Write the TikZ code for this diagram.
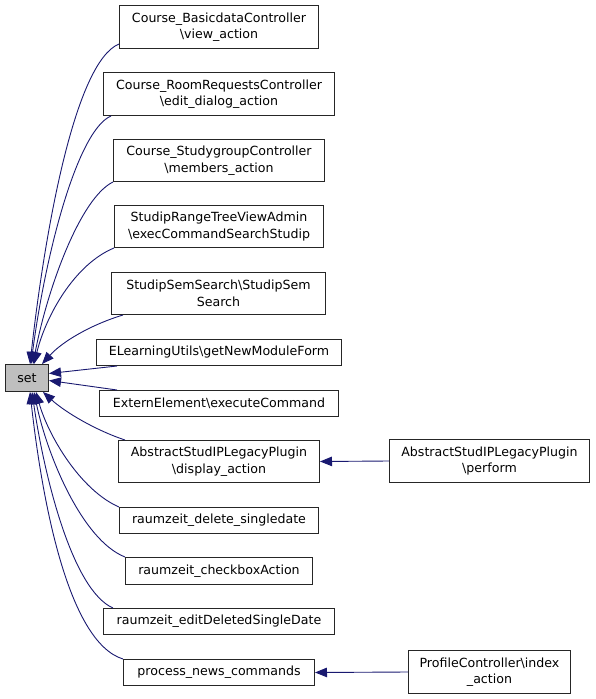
\documentclass[tikz,border=0pt]{standalone}
\usepackage{fontspec}
\setmainfont{DejaVu Sans}
\usetikzlibrary{arrows.meta}
\definecolor{edgeblue}{HTML}{191970}
\definecolor{setgray}{HTML}{BFBFBF}
\begin{document}
\begin{tikzpicture}[x=1pt,y=-1pt,
  box/.style={draw=black!85, line width=1pt, fill=white, align=center, inner sep=0pt,
    anchor=north west, font=\fontsize{12.6}{16.5}\selectfont},
  edge/.style={draw=edgeblue, line width=0.9pt, -{Triangle[length=12pt,width=9.5pt]}}]
\useasboundingbox (0,0) rectangle (595,699);
\node[box, minimum width=199pt, minimum height=43pt] (n1) at (119,5) {Course\_BasicdataController\\\textbackslash view\_action};
\node[box, minimum width=231pt, minimum height=43pt] (n2) at (103,72) {Course\_RoomRequestsController\\\textbackslash edit\_dialog\_action};
\node[box, minimum width=211pt, minimum height=42pt] (n3) at (113,139) {Course\_StudygroupController\\\textbackslash members\_action};
\node[box, minimum width=209pt, minimum height=42pt] (n4) at (114,205) {StudipRangeTreeViewAdmin\\\textbackslash execCommandSearchStudip};
\node[box, minimum width=214pt, minimum height=42pt] (n5) at (111,272) {StudipSemSearch\textbackslash StudipSem\\Search};
\node[box, minimum width=245pt, minimum height=26pt] (n6) at (96,339) {ELearningUtils\textbackslash getNewModuleForm};
\node[box, minimum width=239pt, minimum height=26pt] (n7) at (99,390) {ExternElement\textbackslash executeCommand};
\node[box, minimum width=201pt, minimum height=42pt] (n8) at (118,440) {AbstractStudIPLegacyPlugin\\\textbackslash display\_action};
\node[box, minimum width=199pt, minimum height=26pt] (n9) at (119,507) {raumzeit\_delete\_singledate};
\node[box, minimum width=187pt, minimum height=27pt] (n10) at (125,557) {raumzeit\_checkboxAction};
\node[box, minimum width=231pt, minimum height=26pt] (n11) at (103,608) {raumzeit\_editDeletedSingleDate};
\node[box, minimum width=191pt, minimum height=26pt] (n12) at (123,659) {process\_news\_commands};
\node[box, minimum width=200pt, minimum height=43pt] (n13) at (389,439) {AbstractStudIPLegacyPlugin\\\textbackslash perform};
\node[box, minimum width=162pt, minimum height=43pt] (n14) at (408,650) {ProfileController\textbackslash index\\\_action};
\node[box, fill=setgray, minimum width=43pt, minimum height=27pt] (set) at (5,364) {set};

\draw[edge] ([yshift=5pt]n1.south west) .. controls (75,62) and (45,230) .. ([xshift=25pt]set.north west);
\draw[edge] ([xshift=8pt]n2.south west) .. controls (78,130) and (46,250) .. ([xshift=26pt]set.north west);
\draw[edge] (n3.south west) .. controls (80,198) and (47,290) .. ([xshift=28pt]set.north west);
\draw[edge] (n4.south west) .. controls (75,264) and (46,315) .. ([xshift=29pt]set.north west);
\draw[edge] ([xshift=12pt]n5.south west) .. controls (90,325) and (62,342) .. ([xshift=37pt]set.north west);
\draw[edge] ([xshift=21pt]n6.south west) -- ([yshift=4.5pt]set.east);
\draw[edge] ([xshift=18pt]n7.north west) -- ([yshift=-2.5pt]set.east);
\draw[edge] ([xshift=7pt]n8.north west) .. controls (95,430) and (65,412) .. ([xshift=-6pt]set.south east);
\draw[edge] (n9.north west) .. controls (80,490) and (48,435) .. ([xshift=31pt]set.south west);
\draw[edge] (n10.north west) .. controls (82,540) and (47,455) .. ([xshift=29pt]set.south west);
\draw[edge] ([xshift=10pt]n11.north west) .. controls (72,590) and (44,475) .. ([xshift=27pt]set.south west);
\draw[edge] (n12.north west) .. controls (68,642) and (42,500) .. ([xshift=25pt]set.south west);
\draw[edge] (n13.west) -- (n8.east);
\draw[edge] (n14.west) -- (n12.east);
\end{tikzpicture}
\end{document}
